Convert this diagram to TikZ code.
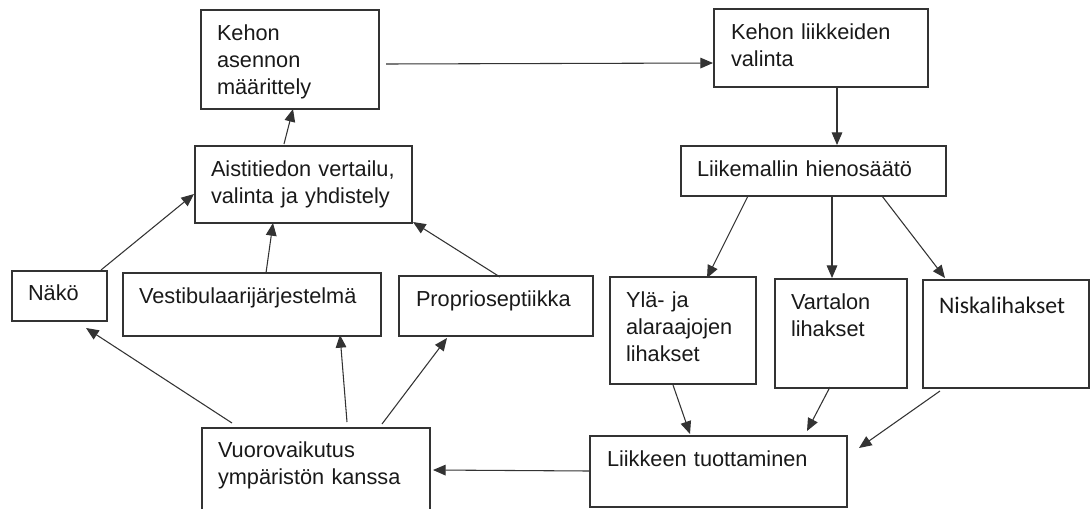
\documentclass[tikz,border=0pt]{standalone}
\usepackage{fontspec}
\setmainfont{Liberation Sans}
\newfontfamily\calibrifont{Carlito}
\usetikzlibrary{arrows.meta}
\begin{document}
\begin{tikzpicture}[x=0.75pt,y=-0.75pt,
  box/.style 2 args={draw=black!80, line width=1pt, anchor=north west, inner sep=0pt, outer sep=0pt,
    minimum width=#1*0.75pt, minimum height=#2*0.75pt},
  txt/.style={anchor=base west, inner sep=0pt, outer sep=0pt, align=left, text=black!90,
    text width=#1*0.75pt, font=\fontsize{16.3pt}{20.6pt}\selectfont},
  ctxt/.style={anchor=base west, inner sep=0pt, outer sep=0pt, align=left, text=black!90,
    text width=#1*0.75pt, font=\calibrifont\fontsize{17.8pt}{21pt}\selectfont},
  arr/.style={draw=black!80, line width=0.8pt, -{Triangle[length=9.5pt,width=8pt]}}]
\useasboundingbox (0,0) rectangle (1090,508);
\clip (0,0) rectangle (1090,508);

% boxes
\node[box={178}{99}] (b1) at (201,10) {};
\node[txt=155] (b1t) at ([shift={(16,30)}]b1.north west) {Kehon\\asennon\\määrittely};

\node[box={214}{78}] (b2) at (714,9) {};
\node[txt=190] (b2t) at ([shift={(17,30)}]b2.north west) {Kehon liikkeiden\\valinta};

\node[box={217}{77}] (b3) at (195,146) {};
\node[txt=195] (b3t) at ([shift={(16,30)}]b3.north west) {Aistitiedon vertailu,\\valinta ja yhdistely};

\node[box={265}{50}] (b4) at (681,146) {};
\node[txt=240] (b4t) at ([shift={(16,30)}]b4.north west) {Liikemallin hienosäätö};

\node[box={95}{50}] (naeko) at (12,271) {};
\node[txt=75] (naekot) at ([shift={(16,29)}]naeko.north west) {Näkö};

\node[box={258}{63}] (vest) at (123,273) {};
\node[txt=235] (vestt) at ([shift={(16,30)}]vest.north west) {Vestibulaarijärjestelmä};

\node[box={194}{60}] (prop) at (399,276) {};
\node[txt=172] (propt) at ([shift={(17,30)}]prop.north west) {Proprioseptiikka};

\node[box={146}{107}] (yla) at (610,277) {};
\node[txt=128] (ylat) at ([shift={(16,30)}]yla.north west) {Ylä- ja\\alaraajojen\\lihakset};

\node[box={132}{109}] (vart) at (775,279) {};
\node[txt=114] (vartt) at ([shift={(16,30)}]vart.north west) {Vartalon\\lihakset};

\node[box={166}{108}] (niska) at (923,280) {};
\node[ctxt=148] (niskat) at ([shift={(16,33)}]niska.north west) {Niskalihakset};

\node[box={228}{90}] (vuoro) at (202,428) {};
\node[txt=205] (vuorot) at ([shift={(16,29)}]vuoro.north west) {Vuorovaikutus\\ympäristön kanssa};

\node[box={257}{71}] (liik) at (590,436) {};
\node[txt=230] (liikt) at ([shift={(17,30)}]liik.north west) {Liikkeen tuottaminen};

% connectors
\draw[arr] ([shift={(7,54)}]b1.north east) -- ([shift={(-1,54)}]b2.north west);
\draw[arr] ([shift={(123,0)}]b2.south west) -- ([shift={(123,-1)}]b2.south west |- b4.north west);
\draw[arr] ([shift={(89,-2)}]b3.north west) -- ([shift={(92,0)}]b1.south west);
\draw[arr] ([shift={(89,-1)}]naeko.north west) -- ([shift={(-1,48)}]b3.north west);
\draw[arr] ([shift={(143,0)}]vest.north west) -- ([shift={(78,0)}]b3.south west);
\draw[arr] ([shift={(101,1)}]prop.north west) -- ([shift={(1,-1)}]b3.south east);
\draw[arr] ([shift={(67,0)}]b4.south west) -- ([shift={(97,1)}]yla.north west);
\draw[arr] ([shift={(151,0)}]b4.south west) -- ([shift={(57,-1)}]vart.north west);
\draw[arr] ([shift={(201,0)}]b4.south west) -- ([shift={(22,-2)}]niska.north west);
\draw[arr] ([shift={(63,1)}]yla.south west) -- ([shift={(100,-2)}]liik.north west);
\draw[arr] ([shift={(55,-1)}]vart.south west) -- ([shift={(217,-5)}]liik.north west);
\draw[arr] ([shift={(17,3)}]niska.south west) -- ([shift={(12,12)}]liik.north east);
\draw[arr] ([shift={(-1,35)}]liik.north west) -- ([shift={(3,42)}]vuoro.north east);
\draw[arr] ([shift={(30,-5)}]vuoro.north west) -- ([shift={(74,7)}]naeko.south west);
\draw[arr] ([shift={(145,-6)}]vuoro.north west) -- ([shift={(217,-1)}]vest.south west);
\draw[arr] ([shift={(180,-4)}]vuoro.north west) -- ([shift={(48,2)}]prop.south west);
\end{tikzpicture}
\end{document}
